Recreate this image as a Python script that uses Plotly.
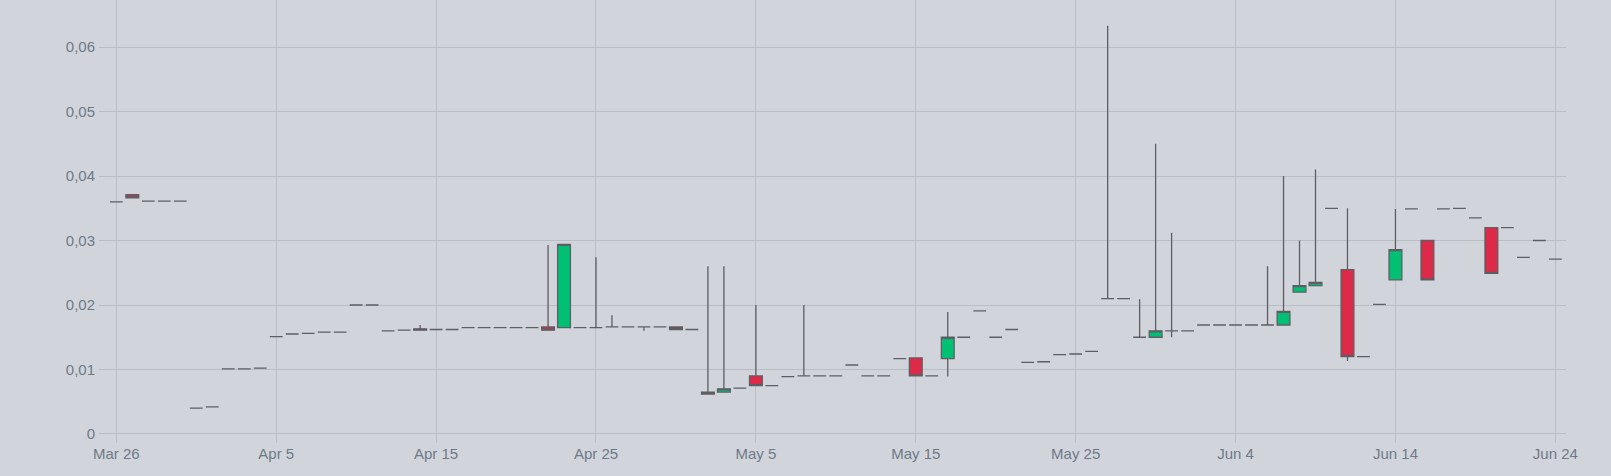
import pandas as pd
import plotly.graph_objects as go

dates = pd.date_range("2024-03-26", "2024-06-24", freq="D")

open_ = [0.0360, 0.0371, 0.0361, 0.0361, 0.0361, 0.0040, 0.0042, 0.0101, 0.0101, 0.0102,
         0.0151, 0.0155, 0.0156, 0.0158, 0.0158, 0.0200, 0.0200, 0.0160, 0.0161, 0.0163,
         0.0162, 0.0162, 0.0165, 0.0165, 0.0165, 0.0165, 0.0165, 0.0166, 0.0165, 0.0165,
         0.0165, 0.0166, 0.0166, 0.0166, 0.0166, 0.0166, 0.0162, 0.0062, 0.0065, 0.0071,
         0.0090, 0.0075, 0.0089, 0.0090, 0.0090, 0.0090, 0.0107, 0.0090, 0.0090, 0.0117,
         0.0118, 0.0090, 0.0117, 0.0150, 0.0191, 0.0150, 0.0162, 0.0111, 0.0112, 0.0123,
         0.0124, 0.0128, 0.0210, 0.0210, 0.0150, 0.0150, 0.0160, 0.0160, 0.0169, 0.0169,
         0.0169, 0.0169, 0.0169, 0.0169, 0.0220, 0.0230, 0.0350, 0.0255, 0.0120, 0.0201,
         0.0239, 0.0349, 0.0300, 0.0349, 0.0350, 0.0335, 0.0320, 0.0320, 0.0274, 0.0300,
         0.0271]
high = [0.0360, 0.0371, 0.0361, 0.0361, 0.0361, 0.0040, 0.0042, 0.0101, 0.0101, 0.0102,
        0.0151, 0.0155, 0.0156, 0.0158, 0.0158, 0.0200, 0.0200, 0.0160, 0.0161, 0.0169,
        0.0162, 0.0162, 0.0165, 0.0165, 0.0165, 0.0165, 0.0165, 0.0293, 0.0294, 0.0165,
        0.0274, 0.0184, 0.0166, 0.0166, 0.0166, 0.0166, 0.0162, 0.0260, 0.0260, 0.0071,
        0.0200, 0.0075, 0.0089, 0.0200, 0.0090, 0.0090, 0.0107, 0.0090, 0.0090, 0.0117,
        0.0118, 0.0090, 0.0189, 0.0150, 0.0191, 0.0150, 0.0162, 0.0111, 0.0112, 0.0123,
        0.0124, 0.0128, 0.0633, 0.0210, 0.0209, 0.0450, 0.0312, 0.0160, 0.0169, 0.0169,
        0.0169, 0.0169, 0.0260, 0.0400, 0.0300, 0.0410, 0.0350, 0.0350, 0.0120, 0.0201,
        0.0349, 0.0349, 0.0300, 0.0349, 0.0350, 0.0335, 0.0320, 0.0320, 0.0274, 0.0300,
        0.0271]
low = [0.0360, 0.0366, 0.0361, 0.0361, 0.0361, 0.0040, 0.0042, 0.0101, 0.0101, 0.0102,
       0.0151, 0.0155, 0.0156, 0.0158, 0.0158, 0.0200, 0.0200, 0.0160, 0.0161, 0.0160,
       0.0162, 0.0162, 0.0165, 0.0165, 0.0165, 0.0165, 0.0165, 0.0161, 0.0165, 0.0165,
       0.0165, 0.0166, 0.0166, 0.0160, 0.0166, 0.0162, 0.0162, 0.0062, 0.0065, 0.0071,
       0.0075, 0.0075, 0.0089, 0.0090, 0.0090, 0.0090, 0.0107, 0.0090, 0.0090, 0.0117,
       0.0090, 0.0090, 0.0089, 0.0150, 0.0191, 0.0150, 0.0162, 0.0111, 0.0112, 0.0123,
       0.0124, 0.0128, 0.0210, 0.0210, 0.0150, 0.0150, 0.0150, 0.0160, 0.0169, 0.0169,
       0.0169, 0.0169, 0.0169, 0.0169, 0.0220, 0.0230, 0.0350, 0.0113, 0.0120, 0.0201,
       0.0239, 0.0349, 0.0239, 0.0349, 0.0350, 0.0335, 0.0249, 0.0320, 0.0274, 0.0300,
       0.0271]
close = [0.0360, 0.0366, 0.0361, 0.0361, 0.0361, 0.0040, 0.0042, 0.0101, 0.0101, 0.0102,
         0.0151, 0.0155, 0.0156, 0.0158, 0.0158, 0.0200, 0.0200, 0.0160, 0.0161, 0.0161,
         0.0162, 0.0162, 0.0165, 0.0165, 0.0165, 0.0165, 0.0165, 0.0161, 0.0294, 0.0165,
         0.0165, 0.0166, 0.0166, 0.0166, 0.0166, 0.0162, 0.0162, 0.0065, 0.0070, 0.0071,
         0.0075, 0.0075, 0.0089, 0.0090, 0.0090, 0.0090, 0.0107, 0.0090, 0.0090, 0.0117,
         0.0090, 0.0090, 0.0150, 0.0150, 0.0191, 0.0150, 0.0162, 0.0111, 0.0112, 0.0123,
         0.0124, 0.0128, 0.0210, 0.0210, 0.0150, 0.0160, 0.0160, 0.0160, 0.0169, 0.0169,
         0.0169, 0.0169, 0.0169, 0.0190, 0.0230, 0.0235, 0.0350, 0.0120, 0.0120, 0.0201,
         0.0286, 0.0349, 0.0239, 0.0349, 0.0350, 0.0335, 0.0249, 0.0320, 0.0274, 0.0300,
         0.0271]

x_tick_dates = ["2024-03-26", "2024-04-05", "2024-04-15", "2024-04-25", "2024-05-05",
                "2024-05-15", "2024-05-25", "2024-06-04", "2024-06-14", "2024-06-24"]
x_tick_labels = ["Mar 26", "Apr 5", "Apr 15", "Apr 25", "May 5",
                 "May 15", "May 25", "Jun 4", "Jun 14", "Jun 24"]
y_tick_values = [0, 0.01, 0.02, 0.03, 0.04, 0.05, 0.06]
y_tick_labels = ["0", "0,01", "0,02", "0,03", "0,04", "0,05", "0,06"]

BG = "#d1d5db"
GRID = "#b9bdc5"
TEXT = "#6e7987"
OUTLINE = "#5c5e63"

fig = go.Figure(go.Candlestick(
    x=dates, open=open_, high=high, low=low, close=close,
    increasing=dict(fillcolor="#00c074", line=dict(color=OUTLINE, width=1.3)),
    decreasing=dict(fillcolor="#dc2a48", line=dict(color=OUTLINE, width=1.3)),
    whiskerwidth=0,
    showlegend=False,
))

fig.update_layout(
    width=1611, height=476,
    margin=dict(l=99, r=45, t=0, b=33),
    paper_bgcolor=BG, plot_bgcolor=BG,
    font=dict(family="Liberation Sans, Arial, sans-serif", size=15, color=TEXT),
    boxgap=0.2, boxgroupgap=0,
    xaxis=dict(
        type="date",
        range=["2024-03-24 22:00", "2024-06-24 16:00"],
        tickvals=x_tick_dates, ticktext=x_tick_labels,
        showgrid=True, gridcolor=GRID, gridwidth=1,
        zeroline=False, showline=False, ticks="",
        rangeslider=dict(visible=False),
        tickfont=dict(size=15, color=TEXT),
    ),
    yaxis=dict(
        range=[-0.0014, 0.0673],
        tickvals=y_tick_values, ticktext=y_tick_labels,
        showgrid=True, gridcolor=GRID, gridwidth=1,
        zeroline=False, showline=False, ticks="",
        ticklabelstandoff=3,
        tickfont=dict(size=15, color=TEXT),
    ),
)

fig.write_html(
    "out.html",
    config={"displayModeBar": False},
    post_script="document.body.style.margin='0';document.body.style.background='" + BG + "';",
)
